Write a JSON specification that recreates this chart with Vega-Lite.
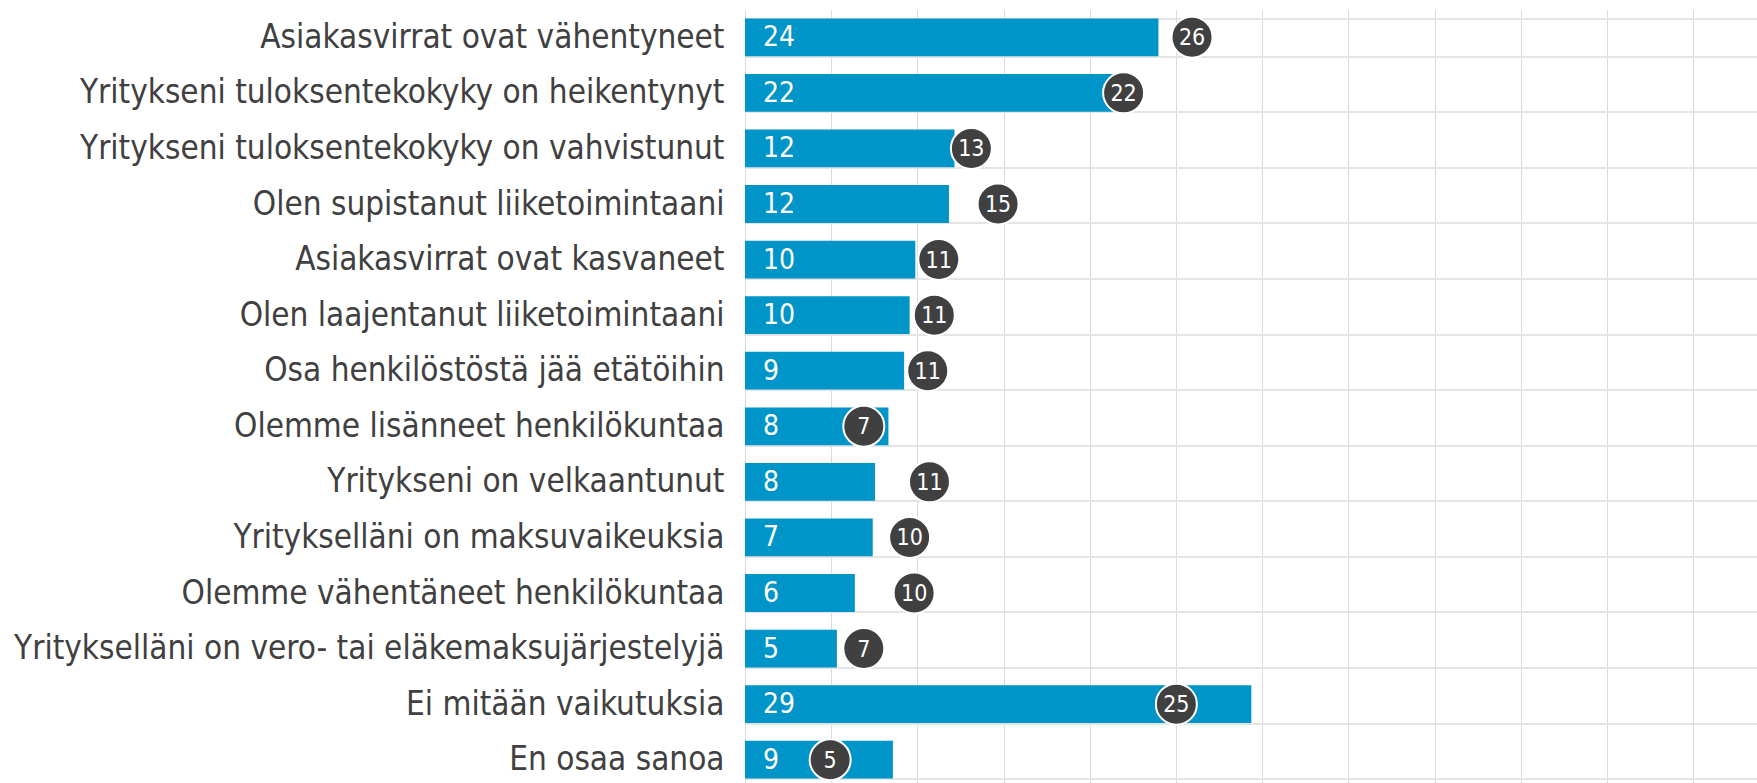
{
  "$schema": "https://vega.github.io/schema/vega-lite/v6.json",
  "autosize": {"type": "none"},
  "padding": {"left": 745, "top": 9.5, "right": 0, "bottom": 0},
  "width": 1012,
  "height": 778,
  "background": "white",
  "config": {"view": {"stroke": null}, "font": "DejaVu Sans Condensed"},
  "data": {
    "values": [
      {"item": "Asiakasvirrat ovat vähentyneet", "value": 23.98, "prev": 25.93},
      {"item": "Yritykseni tuloksentekokyky on heikentynyt", "value": 21.77, "prev": 21.96},
      {"item": "Yritykseni tuloksentekokyky on vahvistunut", "value": 12.15, "prev": 13.13},
      {"item": "Olen supistanut liiketoimintaani", "value": 11.83, "prev": 14.68},
      {"item": "Asiakasvirrat ovat kasvaneet", "value": 9.88, "prev": 11.24},
      {"item": "Olen laajentanut liiketoimintaani", "value": 9.55, "prev": 10.98},
      {"item": "Osa henkilöstöstä jää etätöihin", "value": 9.23, "prev": 10.6},
      {"item": "Olemme lisänneet henkilökuntaa", "value": 8.32, "prev": 6.89},
      {"item": "Yritykseni on velkaantunut", "value": 7.54, "prev": 10.7},
      {"item": "Yritykselläni on maksuvaikeuksia", "value": 7.41, "prev": 9.55},
      {"item": "Olemme vähentäneet henkilökuntaa", "value": 6.37, "prev": 9.81},
      {"item": "Yritykselläni on vero- tai eläkemaksujärjestelyjä", "value": 5.33, "prev": 6.89},
      {"item": "Ei mitään vaikutuksia", "value": 29.37, "prev": 25.02},
      {"item": "En osaa sanoa", "value": 8.58, "prev": 4.94}
    ]
  },
  "encoding": {
    "y": {
      "field": "item",
      "type": "nominal",
      "sort": null,
      "scale": {"paddingInner": 0.32, "paddingOuter": 0.16},
      "axis": {
        "title": null,
        "ticks": false,
        "domain": false,
        "grid": true,
        "tickBand": "extent",
        "gridColor": "#e4e4e4",
        "gridWidth": 2,
        "labelFont": "DejaVu Sans Condensed",
        "labelFontSize": 33,
        "labelColor": "#404040",
        "labelPadding": 21,
        "labelLimit": 0
      }
    }
  },
  "layer": [
    {
      "mark": {"type": "bar", "color": "#0095c8"},
      "encoding": {
        "x": {
          "field": "value",
          "type": "quantitative",
          "scale": {"domain": [0, 58.7], "nice": false, "zero": true},
          "axis": {
            "title": null,
            "labels": false,
            "ticks": false,
            "domain": false,
            "grid": true,
            "values": [0, 5, 10, 15, 20, 25, 30, 35, 40, 45, 50, 55],
            "gridColor": "#dadada",
            "gridWidth": 1
          }
        }
      }
    },
    {
      "mark": {"type": "text", "align": "left", "baseline": "middle", "dx": 18, "dy": 1, "color": "white", "fontSize": 28, "font": "DejaVu Sans Condensed"},
      "encoding": {
        "x": {"datum": 0, "type": "quantitative"},
        "text": {"field": "value", "type": "quantitative", "format": ".0f"}
      }
    },
    {
      "mark": {"type": "point", "shape": "circle", "filled": true, "size": 1680, "color": "#404040", "stroke": "white", "strokeWidth": 2, "opacity": 1},
      "encoding": {
        "x": {"field": "prev", "type": "quantitative"}
      }
    },
    {
      "mark": {"type": "text", "align": "center", "baseline": "middle", "dy": 1, "color": "white", "fontSize": 23, "font": "DejaVu Sans Condensed"},
      "encoding": {
        "x": {"field": "prev", "type": "quantitative"},
        "text": {"field": "prev", "type": "quantitative", "format": ".0f"}
      }
    }
  ]
}
